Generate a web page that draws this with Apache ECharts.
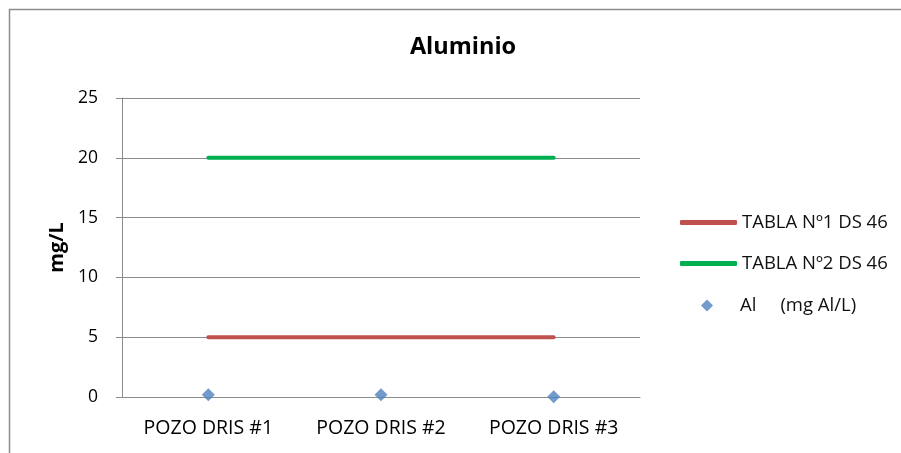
<!DOCTYPE html>
<html><head><meta charset="utf-8">
<script src="https://cdn.jsdelivr.net/npm/echarts@6/dist/echarts.min.js"></script>
<style>html,body{margin:0;padding:0;background:#fff}#c{width:901px;height:453px}</style>
</head><body><div id="c"></div>
<script>
const categories = ['POZO DRIS #1', 'POZO DRIS #2', 'POZO DRIS #3'];
const tabla1 = [5, 5, 5];
const tabla2 = [20, 20, 20];
const aluminio = [0.18, 0.18, 0.02];
const yTicks = [0, 5, 10, 15, 20, 25];
const names = ['TABLA Nº1 DS 46', 'TABLA Nº2 DS 46', 'Al     (mg Al/L)'];
const FONT = 'Open Sans';

const chart = echarts.init(document.getElementById('c'));
const legendText = {fontFamily: FONT, fontSize: 18.5, color: '#111'};
chart.setOption({
  animation: false,
  title: {text: 'Aluminio', left: 458, top: 30, textAlign: 'center',
    textStyle: {fontFamily: FONT, fontWeight: 'bold', fontSize: 23.5, color: '#000'}},
  graphic: [{type: 'rect', shape: {x: 9.5, y: 9.5, width: 1000, height: 1000},
    style: {fill: 'none', stroke: '#8c8c8c', lineWidth: 1.5}, silent: true}],
  grid: {left: 122, right: 261, top: 98, bottom: 56},
  legend: [
    {data: [names[0]], left: 675, top: 208, icon: 'roundRect', itemWidth: 57, itemHeight: 5, itemGap: 4,
      textStyle: legendText},
    {data: [names[1]], left: 675, top: 249, icon: 'roundRect', itemWidth: 57, itemHeight: 5, itemGap: 4,
      textStyle: legendText},
    {data: [names[2]], left: 696, top: 291, icon: 'diamond', itemWidth: 12, itemHeight: 12, itemGap: 5,
      textStyle: Object.assign({}, legendText, {padding: [0, 0, 0, 22]})}
  ],
  xAxis: {type: 'category', data: categories, boundaryGap: true,
    axisLine: {lineStyle: {color: '#8c8c8c', width: 1}},
    axisTick: {show: false},
    axisLabel: {fontFamily: FONT, fontSize: 19.5, color: '#000', margin: 21}},
  yAxis: {type: 'value', min: 0, max: 25, interval: 5,
    name: 'mg/L', nameLocation: 'middle', nameGap: 54, nameRotate: 90,
    nameTextStyle: {fontFamily: FONT, fontWeight: 'bold', fontSize: 20, color: '#000'},
    axisLine: {show: true, lineStyle: {color: '#8c8c8c'}},
    axisTick: {show: true, length: 6, lineStyle: {color: '#8c8c8c'}},
    splitLine: {lineStyle: {color: '#8c8c8c', width: 1}},
    axisLabel: {fontFamily: FONT, fontSize: 17.5, color: '#000', margin: 24,
      formatter: v => yTicks.includes(v) ? String(v) : ''}},
  series: [
    {name: names[0], type: 'line', data: tabla1, symbol: 'none',
      lineStyle: {color: '#C0504D', width: 4, cap: 'round'}, itemStyle: {color: '#C0504D'}},
    {name: names[1], type: 'line', data: tabla2, symbol: 'none',
      lineStyle: {color: '#00B050', width: 4, cap: 'round'}, itemStyle: {color: '#00B050'}},
    {name: names[2], type: 'scatter', data: aluminio, symbol: 'diamond', symbolSize: 13,
      itemStyle: {color: '#4F81BD'}}
  ]
});
</script></body></html>
